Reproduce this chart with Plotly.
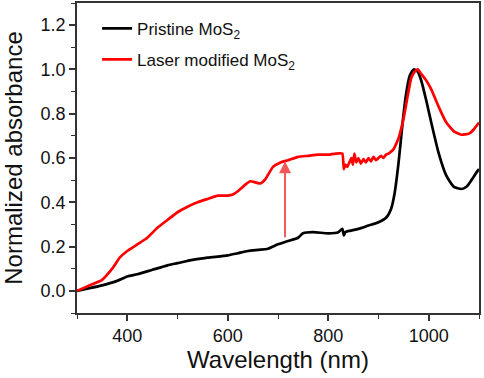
import plotly.graph_objects as go

# Pristine MoS2
wl_black = [300, 320, 350, 380, 400, 420, 450, 480, 500, 530, 560, 600, 620, 640, 660, 680, 700,
            720, 740, 750, 770, 800, 820, 828, 831, 834, 840, 860, 880, 900, 915, 925, 932,
            940, 948, 955, 962, 970, 978, 985, 995, 1005, 1020, 1035, 1050, 1065, 1075, 1085, 1095, 1100]
ab_black = [0.0, 0.01, 0.025, 0.045, 0.065, 0.075, 0.095, 0.115, 0.125, 0.14, 0.15, 0.16, 0.17, 0.18, 0.185, 0.19, 0.21,
            0.225, 0.24, 0.26, 0.265, 0.26, 0.265, 0.28, 0.25, 0.265, 0.27, 0.28, 0.295, 0.31, 0.33, 0.37, 0.44,
            0.58, 0.76, 0.89, 0.97, 1.0, 0.99, 0.95, 0.86, 0.76, 0.62, 0.52, 0.47, 0.46, 0.47, 0.5, 0.535, 0.55]

# Laser modified MoS2
wl_red = [300, 320, 350, 370, 385, 400, 420, 440, 460, 480, 500, 520, 540, 560, 580, 600, 610, 620, 635,
          645, 655, 665, 675, 690, 705, 720, 740, 760, 780, 800, 815, 828, 831, 834, 838, 842,
          846, 849, 852, 856, 860, 865, 870, 875, 880, 885, 890, 895, 900, 905, 910, 915, 920, 930,
          940, 950, 958, 965, 972, 978, 985, 995, 1005, 1020, 1035, 1050, 1065, 1080, 1090, 1100]
ab_red = [0.0, 0.02, 0.05, 0.1, 0.15, 0.18, 0.21, 0.24, 0.285, 0.32, 0.355, 0.38, 0.4, 0.415, 0.43, 0.43, 0.435, 0.45, 0.48,
          0.495, 0.49, 0.485, 0.505, 0.56, 0.58, 0.59, 0.605, 0.61, 0.615, 0.615, 0.62, 0.62, 0.55, 0.57, 0.56, 0.58,
          0.6, 0.57, 0.62, 0.58, 0.6, 0.575, 0.595, 0.58, 0.6, 0.585, 0.605, 0.59, 0.6, 0.61, 0.6, 0.615, 0.62, 0.64,
          0.69, 0.78, 0.88, 0.96, 0.99, 1.0, 0.98, 0.95, 0.91, 0.83, 0.76, 0.72, 0.705, 0.71, 0.73, 0.76]

# Arrow (wavelength, from, to)
arrow_x = 714
arrow_y0 = 0.235
arrow_y1 = 0.585

x_ticks = [400, 600, 800, 1000]
y_ticks = [0.0, 0.2, 0.4, 0.6, 0.8, 1.0, 1.2]

font = "Liberation Sans, Arial, sans-serif"

fig = go.Figure()
fig.add_trace(go.Scatter(x=wl_black, y=ab_black, mode="lines", name="Pristine MoS<sub>2</sub>",
                         legendgroup="a",
                         line=dict(color="black", width=2.7, shape="spline", smoothing=0.6)))
fig.add_trace(go.Scatter(x=wl_red, y=ab_red, mode="lines", name="Laser modified MoS<sub>2</sub>",
                         legendgroup="b",
                         line=dict(color="#ff0000", width=2.7, shape="spline", smoothing=0.4)))

fig.add_annotation(x=arrow_x, y=arrow_y1, ax=arrow_x, ay=arrow_y0, xref="x", yref="y",
                   axref="x", ayref="y", showarrow=True, arrowhead=2, arrowsize=1.2,
                   arrowwidth=2, arrowcolor="rgba(240,60,60,0.85)", text="")

axis_common = dict(showline=True, linecolor="#333", linewidth=1.5, mirror=True,
                   ticks="outside", ticklen=6, tickwidth=1.5, tickcolor="#333",
                   showgrid=False, zeroline=False,
                   tickfont=dict(family=font, size=18, color="#111"))

fig.update_xaxes(range=[300, 1100], tickvals=x_ticks, ticktext=[str(v) for v in x_ticks],
                 minor=dict(dtick=100, tick0=300, ticks="outside", ticklen=4, tickwidth=1.2, tickcolor="#333"),
                 title=dict(text="Wavelength (nm)", font=dict(family=font, size=24, color="#111"), standoff=6),
                 automargin=False, **axis_common)
fig.update_yaxes(range=[-0.1, 1.3], tickvals=y_ticks, ticktext=[f"{v:.1f}" for v in y_ticks],
                 minor=dict(dtick=0.1, tick0=0, ticks="outside", ticklen=4, tickwidth=1.2, tickcolor="#333"),
                 title=dict(text="Normalized absorbance", font=dict(family=font, size=24, color="#111"), standoff=16),
                 automargin=True, **axis_common)

fig.update_layout(width=484, height=378, margin=dict(l=77, r=3, t=3, b=65),
                  paper_bgcolor="white", plot_bgcolor="white",
                  showlegend=True,
                  legend=dict(x=0.05, y=0.975, xanchor="left", yanchor="top",
                              bgcolor="rgba(0,0,0,0)", font=dict(family=font, size=17, color="#111"),
                              tracegroupgap=6, itemwidth=30))

fig.write_html("out.html", config={"displayModeBar": False},
               post_script="document.body.style.margin='0';document.body.style.overflow='hidden';")
